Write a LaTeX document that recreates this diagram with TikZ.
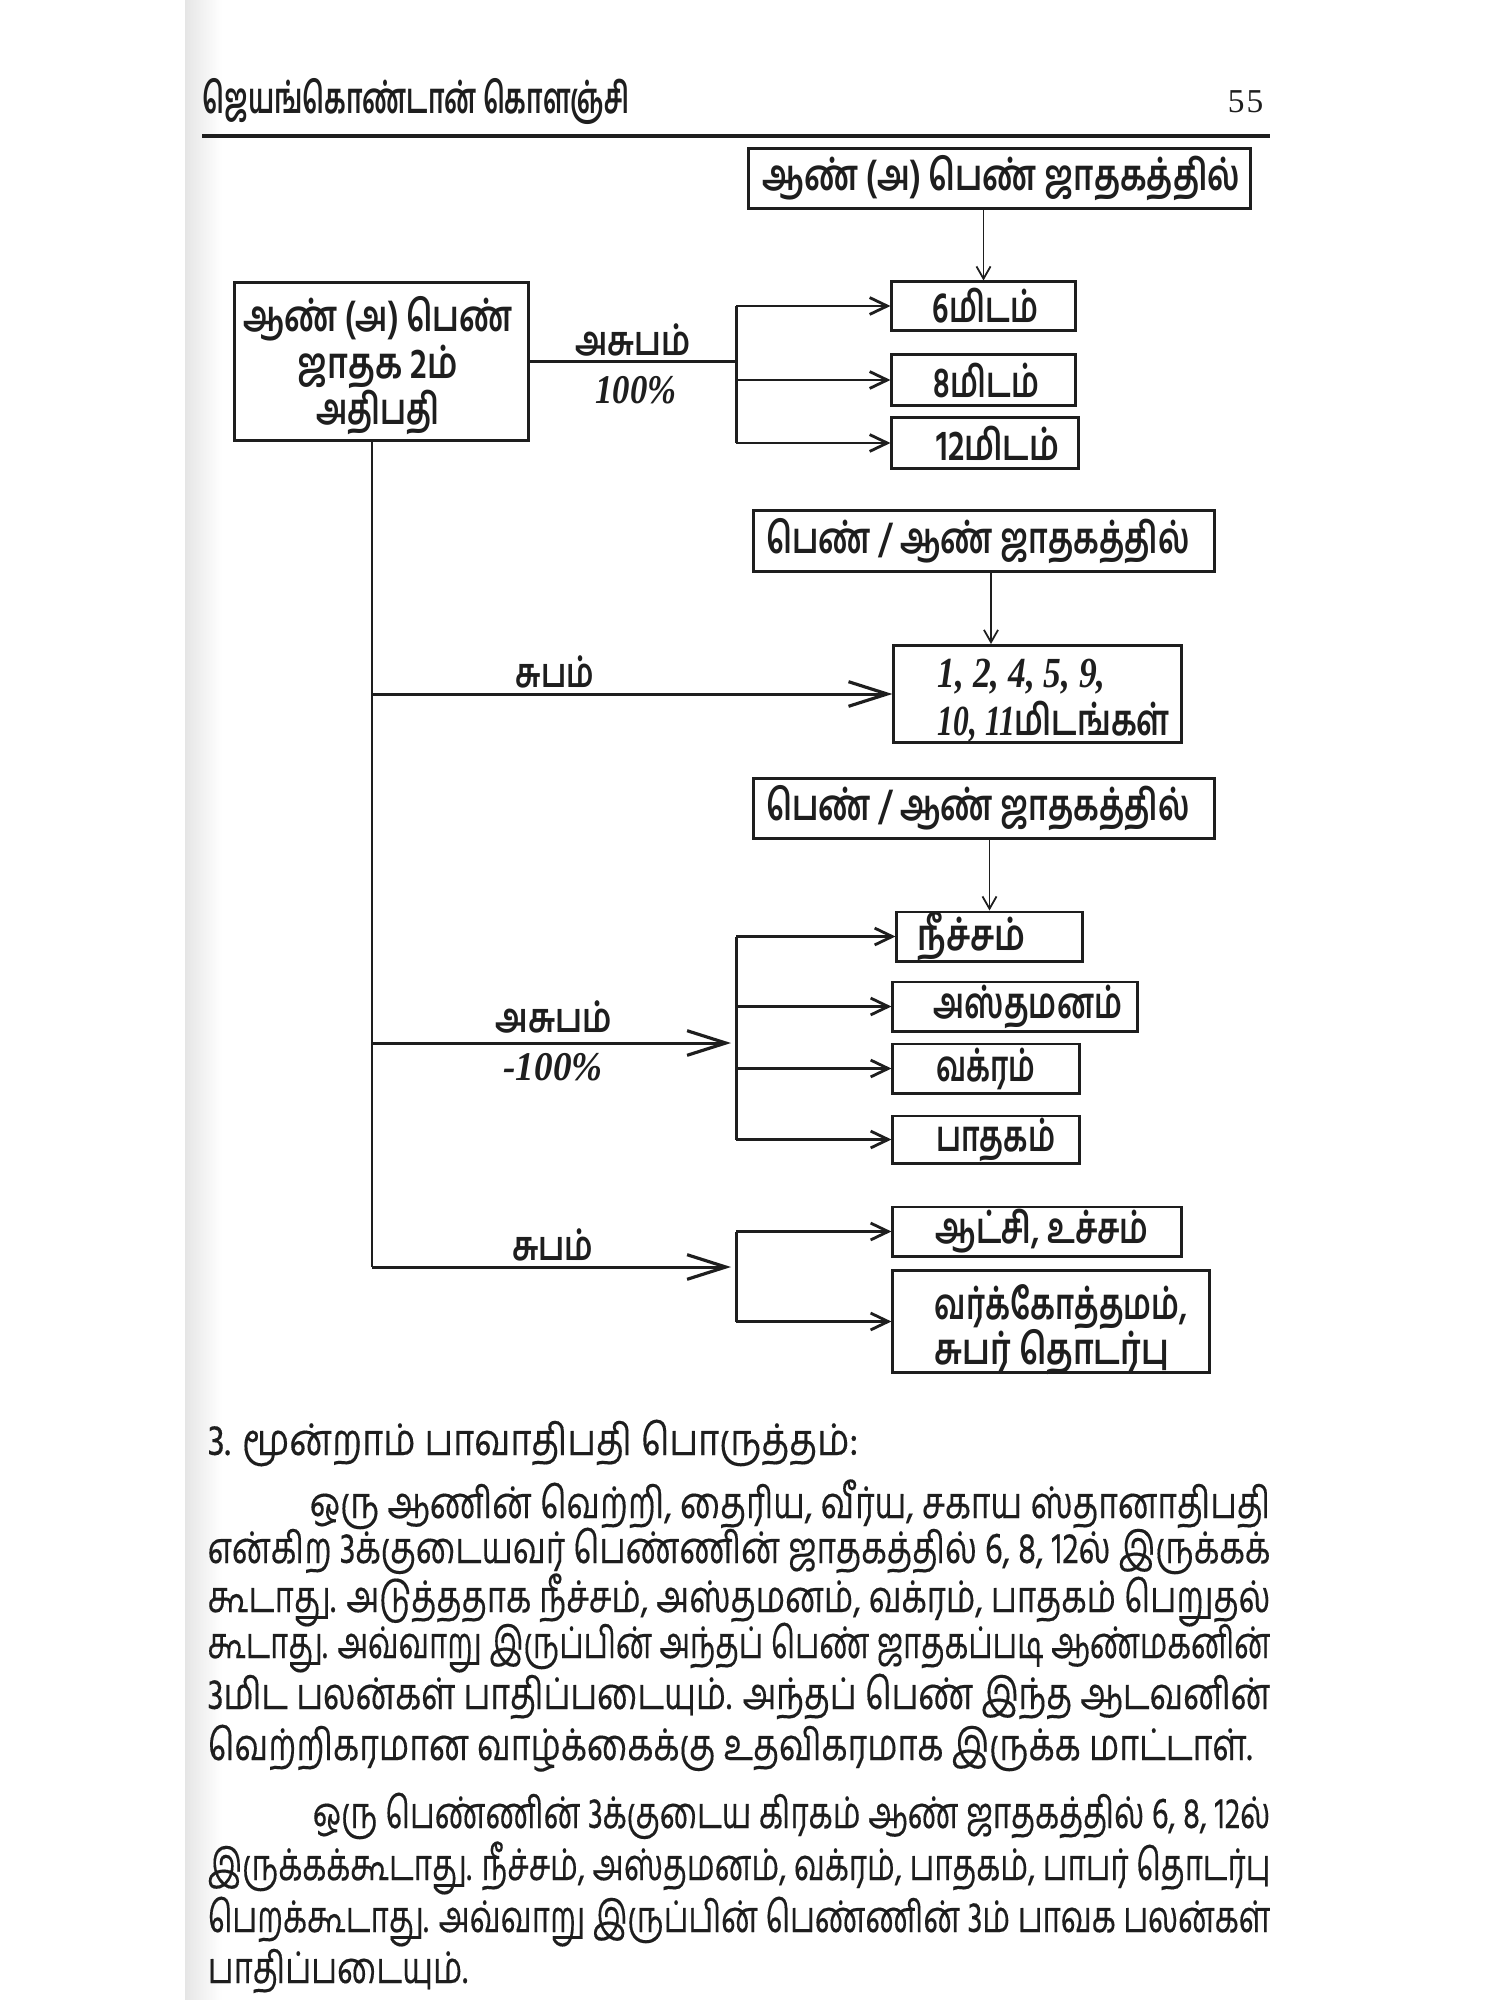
\documentclass[tikz,border=0pt]{standalone}
\usepackage{fontspec}
\usepackage{graphicx}
\usetikzlibrary{arrows.meta,calc}
\newfontfamily\tam[Script=Tamil]{Hind Madurai}
\newfontfamily\tamm[Script=Tamil,FakeBold=0.3]{Hind Madurai}
\newfontfamily\ser{Liberation Serif}
\definecolor{ink}{HTML}{1E1E1E}
\newsavebox\lnbox
\newcommand\fitline[2]{\sbox\lnbox{#2}\ifdim\wd\lnbox>#1\relax\resizebox{#1}{\height}{\usebox\lnbox}\else\makebox[#1][s]{#2}\fi}
\newcommand\fitword[2]{\sbox\lnbox{#2}\ifdim\wd\lnbox>#1\relax\resizebox{#1}{\height}{\usebox\lnbox}\else\usebox\lnbox\fi}
\newcommand\itnum[1]{{\ser\bfseries\itshape #1}}
\tikzset{
  box/.style={draw=ink, line width=0.85pt, inner sep=0pt, rectangle},
  conn/.style={draw=ink, line width=0.85pt},
  sm/.style={conn, -{Straight Barb[length=5pt,width=4.8pt,line width=0.8pt]}},
  big/.style={conn, -{Straight Barb[length=11pt,width=7pt,line width=0.9pt]}},
  dn/.style={draw=ink, line width=0.55pt, -{Straight Barb[length=3.5pt,width=4pt,line width=0.5pt]}},
  dtxt/.style={text=ink, font=\tam\bfseries\fontsize{12.2}{14}\selectfont, inner sep=0pt},
  ltxt/.style={text=ink, font=\tam\bfseries\fontsize{11.6}{13}\selectfont, inner sep=0pt},
  btxt/.style={text=ink, font=\tamm\fontsize{12.4}{14}\selectfont, inner sep=0pt, anchor=base west},
}
\begin{document}
\begin{tikzpicture}[x=0.01cm,y=-0.01cm]
\useasboundingbox (0,0) rectangle (1500,2000);
\fill[white] (0,0) rectangle (1500,2000);
\shade[left color=black!10, right color=white] (185,0) rectangle (222,2000);

% running head
\node[dtxt, anchor=base west] (hd) at (202,114) {\fitword{4.26cm}{ஜெயங்கொண்டான் கொளஞ்சி}};
\node[text=ink, font=\ser\fontsize{9.5}{11}\selectfont, anchor=base east, inner sep=0pt] (pg) at (1264,113) {5\kern0.6pt5};
\coordinate (rl) at (202,136);
\coordinate (rr) at (1270,136);
\draw[ink, line width=0.9pt] (rl) -- (rr);

% boxes
\node[box, minimum width=5.01cm, minimum height=0.59cm] (top1) at (999.5,178.5) {};
\node[box, minimum width=1.83cm, minimum height=0.48cm] (six) at (983.5,306) {};
\node[box, minimum width=1.83cm, minimum height=0.50cm] (eight) at (983.5,380) {};
\node[box, minimum width=1.86cm, minimum height=0.50cm] (twelve) at (985,443) {};
\node[box, minimum width=2.93cm, minimum height=1.57cm] (left) at (381.5,361.5) {};
\node[box, minimum width=4.60cm, minimum height=0.60cm] (top2) at (984,541) {};
\node[box, minimum width=2.87cm, minimum height=0.97cm] (nums) at (1037.5,694) {};
\node[box, minimum width=4.60cm, minimum height=0.59cm] (top3) at (984,808.5) {};
\node[box, minimum width=1.85cm, minimum height=0.49cm] (neech) at (989.5,936.5) {};
\node[box, minimum width=2.44cm, minimum height=0.49cm] (asta) at (1015,1006.5) {};
\node[box, minimum width=1.86cm, minimum height=0.49cm] (vakr) at (986,1068.5) {};
\node[box, minimum width=1.86cm, minimum height=0.47cm] (paat) at (986,1139.5) {};
\node[box, minimum width=2.88cm, minimum height=0.49cm] (aat) at (1037,1231.5) {};
\node[box, minimum width=3.16cm, minimum height=1.01cm] (varg) at (1051,1321.5) {};

% box texts
\node[dtxt] (top1t) at ([xshift=0.02cm]top1.center) {\fitword{4.77cm}{ஆண் (அ) பெண் ஜாதகத்தில்}};
\node[dtxt] (sixt) at ([xshift=0.02cm]six.center) {\fitword{1.05cm}{6மிடம்}};
\node[dtxt] (eightt) at ([xshift=0.03cm]eight.center) {\fitword{1.05cm}{8மிடம்}};
\node[dtxt] (twelvet) at ([xshift=0.13cm]twelve.center) {\fitword{1.23cm}{12மிடம்}};
\node[dtxt] (l1) at (378,319) {\fitword{2.69cm}{ஆண் (அ) பெண்}};
\node[dtxt] (l2) at (378,367) {\fitword{1.60cm}{ஜாதக 2ம்}};
\node[dtxt] (l3) at (378,412) {\fitword{1.23cm}{அதிபதி}};
\node[dtxt] (top2t) at ([xshift=-0.06cm]top2.center) {\fitword{4.23cm}{பெண் / ஆண் ஜாதகத்தில்}};
\node[dtxt, anchor=west] (n1) at (937,677) {\fitword{1.68cm}{\itnum{1, 2, 4, 5, 9,}}};
\node[dtxt, anchor=west] (n2) at (937,722) {\fitword{2.32cm}{\itnum{10, 11}மிடங்கள்}};
\node[dtxt] (top3t) at ([xshift=-0.06cm]top3.center) {\fitword{4.23cm}{பெண் / ஆண் ஜாதகத்தில்}};
\node[dtxt] (neecht) at ([xshift=-0.18cm]neech.center) {\fitword{1.08cm}{நீச்சம்}};
\node[dtxt] (astat) at ([xshift=0.13cm]asta.center) {\fitword{1.88cm}{அஸ்தமனம்}};
\node[dtxt] (vakrt) at (vakr.center) {\fitword{0.99cm}{வக்ரம்}};
\node[dtxt] (paatt) at ([xshift=0.10cm]paat.center) {\fitword{1.19cm}{பாதகம்}};
\node[dtxt] (aatt) at ([xshift=0.05cm]aat.center) {\fitword{2.13cm}{ஆட்சி, உச்சம்}};
\node[dtxt, anchor=west] (v1) at (934,1307) {\fitword{2.53cm}{வர்க்கோத்தமம்,}};
\node[dtxt, anchor=west] (v2) at (934,1352) {\fitword{2.34cm}{சுபர் தொடர்பு}};

% connector labels
\node[ltxt] (las1) at (633,340) {\fitword{1.15cm}{அசுபம்}};
\node[ltxt] (lp1) at (636,390) {\fitword{0.81cm}{\itnum{100\%}}};
\node[ltxt] (ls1) at (555,672) {\fitword{0.78cm}{சுபம்}};
\node[ltxt] (las2) at (554,1017) {\fitword{1.16cm}{அசுபம்}};
\node[ltxt] (lp2) at (553,1067) {\fitword{0.99cm}{\itnum{-100\%}}};
\node[ltxt] (ls2) at (553,1245) {\fitword{0.81cm}{சுபம்}};

% connectors
\coordinate (b1) at (736,361.5);
\coordinate (b2) at (736,1043);
\coordinate (h2) at (731,1043);
\coordinate (b3) at (736,1267);
\coordinate (h3) at (731,1267);
\coordinate (t0) at ([xshift=-0.095cm]left.south);
\coordinate (a2) at ([xshift=0.07cm]top2.south);

\draw[dn] (six.north |- top1.south) -- (six.north);
\draw[conn] (left.east) -- (b1);
\draw[conn] (b1 |- six.west) -- (b1 |- twelve.west);
\draw[sm] (b1 |- six.west) -- (six.west);
\draw[sm] (b1 |- eight.west) -- (eight.west);
\draw[sm] (b1 |- twelve.west) -- (twelve.west);

\draw[conn] (t0) -- (t0 |- b3);
\draw[dn] (a2) -- (a2 |- nums.north);
\draw[big] (t0 |- nums.west) -- (nums.west);

\draw[dn] (neech.north |- top3.south) -- (neech.north);
\draw[big] (t0 |- b2) -- (h2);
\draw[conn] (b2 |- neech.west) -- (b2 |- paat.west);
\draw[sm] (b2 |- neech.west) -- (neech.west);
\draw[sm] (b2 |- asta.west) -- (asta.west);
\draw[sm] (b2 |- vakr.west) -- (vakr.west);
\draw[sm] (b2 |- paat.west) -- (paat.west);

\draw[big] (t0 |- b3) -- (h3);
\draw[conn] (b3 |- aat.west) -- (b3 |- varg.west);
\draw[sm] (b3 |- aat.west) -- (aat.west);
\draw[sm] (b3 |- varg.west) -- (varg.west);

% body text
\node[btxt] (hd3) at (207,1455) {\fitline{6.50cm}{3. மூன்றாம் பாவாதிபதி பொருத்தம்:}};
\node[btxt] (p1) at (309,1518) {\fitline{9.60cm}{ஒரு ஆணின் வெற்றி, தைரிய, வீர்ய, சகாய ஸ்தானாதிபதி}};
\node[btxt] (p2) at (207,1563) {\fitline{10.62cm}{என்கிற 3க்குடையவர் பெண்ணின் ஜாதகத்தில் 6, 8, 12ல் இருக்கக்}};
\node[btxt] (p3) at (207,1612) {\fitline{10.62cm}{கூடாது. அடுத்ததாக நீச்சம், அஸ்தமனம், வக்ரம், பாதகம் பெறுதல்}};
\node[btxt] (p4) at (207,1658) {\fitline{10.62cm}{கூடாது. அவ்வாறு இருப்பின் அந்தப் பெண் ஜாதகப்படி ஆண்மகனின்}};
\node[btxt] (p5) at (207,1709) {\fitline{10.62cm}{3மிட பலன்கள் பாதிப்படையும். அந்தப் பெண் இந்த ஆடவனின்}};
\node[btxt] (p6) at (207,1760) {\fitline{10.44cm}{வெற்றிகரமான வாழ்க்கைக்கு உதவிகரமாக இருக்க மாட்டாள்.}};
\node[btxt] (q1) at (312,1828) {\fitline{9.57cm}{ஒரு பெண்ணின் 3க்குடைய கிரகம் ஆண் ஜாதகத்தில் 6, 8, 12ல்}};
\node[btxt] (q2) at (207,1880) {\fitline{10.62cm}{இருக்கக்கூடாது. நீச்சம், அஸ்தமனம், வக்ரம், பாதகம், பாபர் தொடர்பு}};
\node[btxt] (q3) at (207,1932) {\fitline{10.62cm}{பெறக்கூடாது. அவ்வாறு இருப்பின் பெண்ணின் 3ம் பாவக பலன்கள்}};
\node[btxt] (q4) at (207,1983) {\fitword{2.60cm}{பாதிப்படையும்.}};
\end{tikzpicture}
\end{document}
